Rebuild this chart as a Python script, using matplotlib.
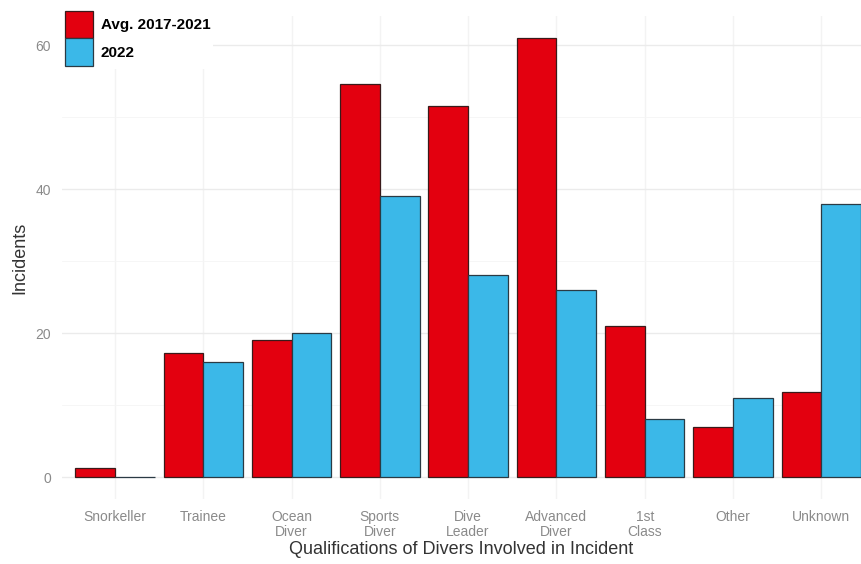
import matplotlib
matplotlib.use("Agg")
import matplotlib.pyplot as plt
import numpy as np
from matplotlib.patches import Patch

categories = ["Snorkeller", "Trainee", "Ocean\nDiver", "Sports\nDiver", "Dive\nLeader",
              "Advanced\nDiver", "1st\nClass", "Other", "Unknown"]
avg_2017_2021 = [1.2, 17.2, 19.0, 54.6, 51.6, 61.0, 21.0, 7.0, 11.8]
y2022 = [0, 16, 20, 39, 28, 26, 8, 11, 38]
series_labels = ["Avg. 2017-2021", "2022"]
yticks = [0, 20, 40, 60]

plt.rcParams['font.family'] = ['Liberation Sans', 'DejaVu Sans']

W, H = 861, 564
fig = plt.figure(figsize=(W/100, H/100), dpi=100)
ax = fig.add_axes([62/W, (H-499)/H, (W-62)/W, (499-16)/H])

red = "#E3000F"
blue = "#3BB8E8"
x = np.arange(1, len(categories)+1)
bw = 0.45
ax.bar(x - bw/2, avg_2017_2021, width=bw, color=red, edgecolor="#3a1a1a", linewidth=0.9, zorder=3)
ax.bar(x + bw/2, y2022, width=bw, color=blue, edgecolor="#2a3a44", linewidth=0.9, zorder=3)

ax.set_xlim(0.4, 9.45)
ax.set_ylim(-3.05, 64.05)
ax.set_yticks(yticks)
ax.set_yticks([10, 30, 50], minor=True)
ax.set_xticks(x)
ax.set_xticklabels(categories, linespacing=1.05)
ax.tick_params(axis='both', length=0, labelsize=10, labelcolor="#8a8a8a")
ax.tick_params(axis='x', pad=8)
ax.tick_params(axis='y', pad=8)
ax.tick_params(axis='both', which='minor', length=0)
ax.grid(which='major', axis='y', color="#ebebeb", linewidth=1.0, zorder=0)
ax.grid(which='major', axis='x', color="#f3f3f3", linewidth=1.0, zorder=0)
ax.grid(which='minor', axis='y', color="#f5f5f5", linewidth=0.6, zorder=0)
for s in ax.spines.values():
    s.set_visible(False)

ax.set_xlabel("Qualifications of Divers Involved in Incident", fontsize=13, color="#333333", labelpad=2)
ax.set_ylabel("Incidents", fontsize=13, color="#333333", labelpad=5)

handles = [Patch(facecolor=red, edgecolor="#3a1a1a", linewidth=0.9),
           Patch(facecolor=blue, edgecolor="#2a3a44", linewidth=0.9)]
leg = fig.legend(handles, series_labels, loc='upper left', bbox_to_anchor=(54/W, 1.0),
                 frameon=True, fancybox=False, framealpha=1, edgecolor="none",
                 handlelength=1.85, handleheight=2.42, handletextpad=0.5, labelspacing=0.0,
                 borderpad=0.2, prop={'weight': 'bold', 'size': 11})
for t in leg.get_texts():
    t.set_color("black")

fig.savefig("out.png", dpi=100)
